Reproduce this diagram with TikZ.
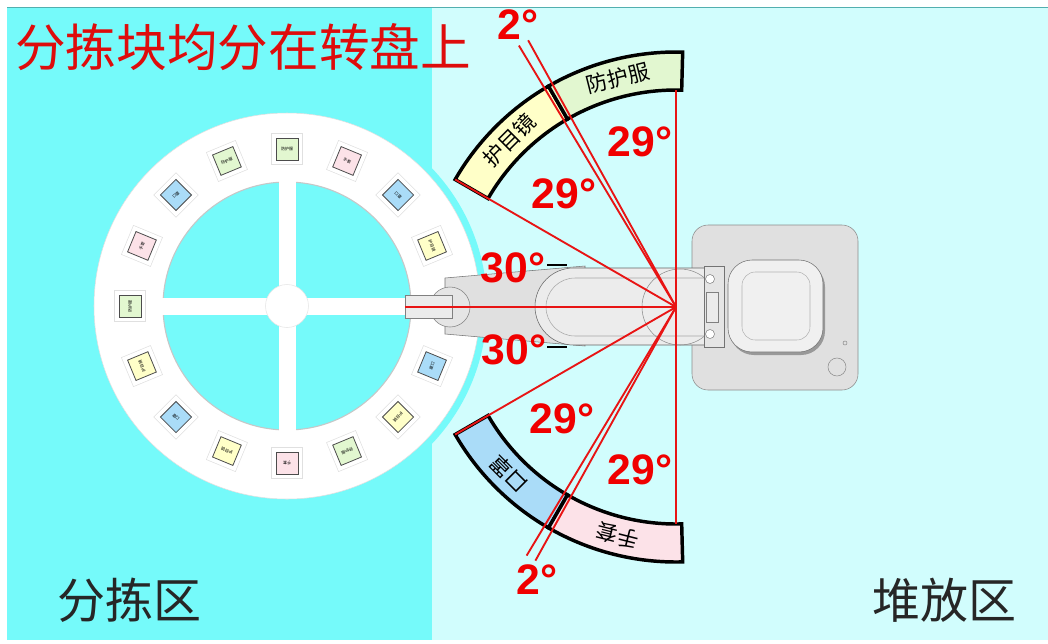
\documentclass[tikz,border=0pt]{standalone}
\usepackage{amsmath}
\usepackage{amssymb}
\usepackage{fontspec}
\usepackage{tikz}
\usetikzlibrary{calc}

\newfontfamily\cjk{Noto Sans CJK SC}
\newfontfamily\degfont{Liberation Sans}

\definecolor{sortcyan}{RGB}{117,250,250}
\definecolor{stackcyan}{RGB}{209,253,253}
\definecolor{rayred}{RGB}{232,20,20}
\definecolor{textred}{RGB}{240,0,0}
\definecolor{titlered}{RGB}{222,12,12}
\definecolor{gogglefill}{RGB}{255,255,200}
\definecolor{suitfill}{RGB}{226,247,208}
\definecolor{maskfill}{RGB}{170,220,248}
\definecolor{glovefill}{RGB}{252,226,232}
\definecolor{armgray}{RGB}{224,224,224}

\tikzset{
  ray/.style={draw=rayred,line width=1.4pt},
  band/.style={draw=black,line width=2.6pt},
  deg/.style={text=textred,font=\degfont\bfseries\fontsize{32}{33}\selectfont,inner sep=0pt},
  bandtext/.style={font=\cjk\fontsize{16}{17}\selectfont,inner sep=0pt},
  zonetext/.style={text=black!85,font=\cjk\fontsize{36}{38}\selectfont,inner sep=0pt},
  blk/.style={preaction={draw=black!12,line width=7.5pt},preaction={draw=white,line width=6.5pt},
    draw=black!70,line width=0.6pt,minimum size=16.5pt,inner sep=0pt,font=\cjk\fontsize{3}{3.5}\selectfont},
}

\begin{document}
\begin{tikzpicture}[x=0.75pt,y=0.75pt,yscale=-1,xscale=1]
\useasboundingbox (0,0) rectangle (1048,643);

%Shape: Rectangle [background]
\fill[white] (0,0) rectangle (1048,643);
\fill[sortcyan] (7,7) rectangle (432,640);
\fill[stackcyan] (432,7) rectangle (1048,640);
\draw[sortcyan!70!black,line width=0.6pt] (7,7.3) -- (1048,7.3);

\coordinate (W) at (287,306);
\coordinate (P) at (676,307);

%Shape: Circle [turntable]
\fill[sortcyan] (W) circle[radius=200];
\draw[fill=white,draw=black!12] (W) circle[radius=193];
\draw[fill=sortcyan,draw=black!22,line width=0.8pt] (W) circle[radius=124];
\fill[white] ($(W)+(-125,-8.5)$) rectangle ($(W)+(125,8.5)$);
\fill[white] ($(W)+(-8.5,-125)$) rectangle ($(W)+(8.5,125)$);
\draw[fill=white,draw=black!10] (W) circle[radius=21.5];

% Blocks on the turntable
\node (blk1) [blk,fill=suitfill,rotate=0] at ($(W)+(-90:157)$) {防护服};
\node (blk2) [blk,fill=suitfill,rotate=22.5] at ($(W)+(-112.5:157)$) {防护服};
\node (blk3) [blk,fill=maskfill,rotate=45] at ($(W)+(-135:157)$) {口罩};
\node (blk4) [blk,fill=glovefill,rotate=67.5] at ($(W)+(-157.5:157)$) {手套};
\node (blk5) [blk,fill=suitfill,rotate=90] at ($(W)+(-180:157)$) {防护服};
\node (blk6) [blk,fill=gogglefill,rotate=112.5] at ($(W)+(-202.5:157)$) {护目镜};
\node (blk7) [blk,fill=maskfill,rotate=135] at ($(W)+(-225:157)$) {口罩};
\node (blk8) [blk,fill=gogglefill,rotate=157.5] at ($(W)+(-247.5:157)$) {护目镜};
\node (blk9) [blk,fill=glovefill,rotate=180] at ($(W)+(-270:157)$) {手套};
\node (blk10) [blk,fill=suitfill,rotate=202.5] at ($(W)+(-292.5:157)$) {防护服};
\node (blk11) [blk,fill=gogglefill,rotate=225] at ($(W)+(-315:157)$) {护目镜};
\node (blk12) [blk,fill=maskfill,rotate=247.5] at ($(W)+(-337.5:157)$) {口罩};
\node (blk13) [blk,fill=gogglefill,rotate=-67.5] at ($(W)+(-22.5:157)$) {护目镜};
\node (blk14) [blk,fill=maskfill,rotate=-45] at ($(W)+(-45:157)$) {口罩};
\node (blk15) [blk,fill=glovefill,rotate=-22.5] at ($(W)+(-67.5:157)$) {手套};

%Shape: Arc [upper bins]
\draw[band,fill=gogglefill] ($(P)+(-150:255)$) arc[start angle=-150,end angle=-120,radius=255] -- ($(P)+(-120:217)$) arc[start angle=-120,end angle=-150,radius=217] -- cycle;
\draw[band,fill=suitfill] ($(P)+(-120:255)$) arc[start angle=-120,end angle=-88.5,radius=255] -- ($(P)+(-88.5:217)$) arc[start angle=-88.5,end angle=-120,radius=217] -- cycle;
%Shape: Arc [lower bins]
\draw[band,fill=maskfill] ($(P)+(-210:255)$) arc[start angle=-210,end angle=-240,radius=255] -- ($(P)+(-240:217)$) arc[start angle=-240,end angle=-210,radius=217] -- cycle;
\draw[band,fill=glovefill] ($(P)+(-240:255)$) arc[start angle=-240,end angle=-271.5,radius=255] -- ($(P)+(-271.5:217)$) arc[start angle=-271.5,end angle=-240,radius=217] -- cycle;

% Text Node
\node (goggles) [bandtext,rotate=45] at ($(P)+(-135:236)$) {护目镜};
\node (suit) [bandtext,rotate=14.25] at ($(P)+(-104.25:236)$) {防护服};
\node (mask) [bandtext,rotate=135] at ($(P)+(-225:236)$) {口罩};
\node (gloves) [bandtext,rotate=165.75] at ($(P)+(-255.75:236)$) {手套};

%Shape: Rectangle [robot base]
\draw[fill=armgray,draw=black!45,rounded corners=12] (692,225) rectangle (858,390);
\draw[black!45] (837,367) circle[radius=9];
\draw[black!45] (845,343) circle[radius=2];
\fill[black!40,rounded corners=18] (730,263) rectangle (825,355);
\draw[fill=black!6,draw=black!55,rounded corners=18] (728,260) rectangle (823,352);
\draw[black!30,rounded corners=10] (742,272) rectangle (810,340);

%Shape: Polygon [robot arm]
\draw[fill=armgray,draw=black!55] (445,278) -- (585,266) -- (585,346) -- (445,334) -- cycle;
\draw[fill=black!10,draw=black!50] (450,307) circle[radius=20];
\draw[fill=black!8,draw=black!50] (405,295) rectangle (452,318);
\draw[black,line width=2pt] (547,265) -- (567,265);
\draw[black,line width=2pt] (547,347) -- (567,347);
\draw[fill=armgray!60,draw=black!60] (720,268) -- (573.5,268) arc[start angle=-90,end angle=-270,radius=38.5] -- (720,345) -- cycle;
\draw[black!35] (705,278) -- (575,278) arc[start angle=-90,end angle=-270,radius=29] -- (705,336);
\draw[black!45] (680,307) circle[radius=38];
\draw[fill=black!10,draw=black!55] (704,266) rectangle (724,347);
\draw[fill=black!8,draw=black!50] (706,292) rectangle (718,322);
\draw[fill=white,draw=black!50] (710,279) circle[radius=4.5];
\draw[fill=white,draw=black!50] (710,334) circle[radius=4.5];

%Straight Lines [angle rays]
\draw[ray] (P) -- ($(P)+(-90:217)$);
\draw[ray] (P) -- ($(P)+(-119:305)$);
\draw[ray] (P) -- ($(P)+(-121:305)$);
\draw[ray] (P) -- ($(P)+(-150:255)$);
\draw[ray] (P) -- ($(P)+(-180:271)$);
\draw[ray] (P) -- ($(P)+(-210:255)$);
\draw[ray] (P) -- ($(P)+(-239:290)$);
\draw[ray] (P) -- ($(P)+(-241:290)$);
\draw[ray] (P) -- ($(P)+(-270:217)$);

% Text Node
\node (d2top) [deg] at (518,25) {2°};
\node (d29a) [deg] at (640,142) {29°};
\node (d29b) [deg] at (564,194) {29°};
\node (d30a) [deg] at (513,268) {30°};
\node (d30b) [deg] at (514,350) {30°};
\node (d29c) [deg] at (562,419) {29°};
\node (d29d) [deg] at (640,470) {29°};
\node (d2bot) [deg] at (537,580) {2°};

% Text Node
\node (title) [anchor=west,text=titlered,font=\cjk\fontsize{38}{40}\selectfont,inner sep=0pt] at (15,47) {分拣块均分在转盘上};
\node (sortzone) [zonetext] at (129,600) {分拣区};
\node (stackzone) [zonetext] at (944,600) {堆放区};

\end{tikzpicture}
\end{document}
